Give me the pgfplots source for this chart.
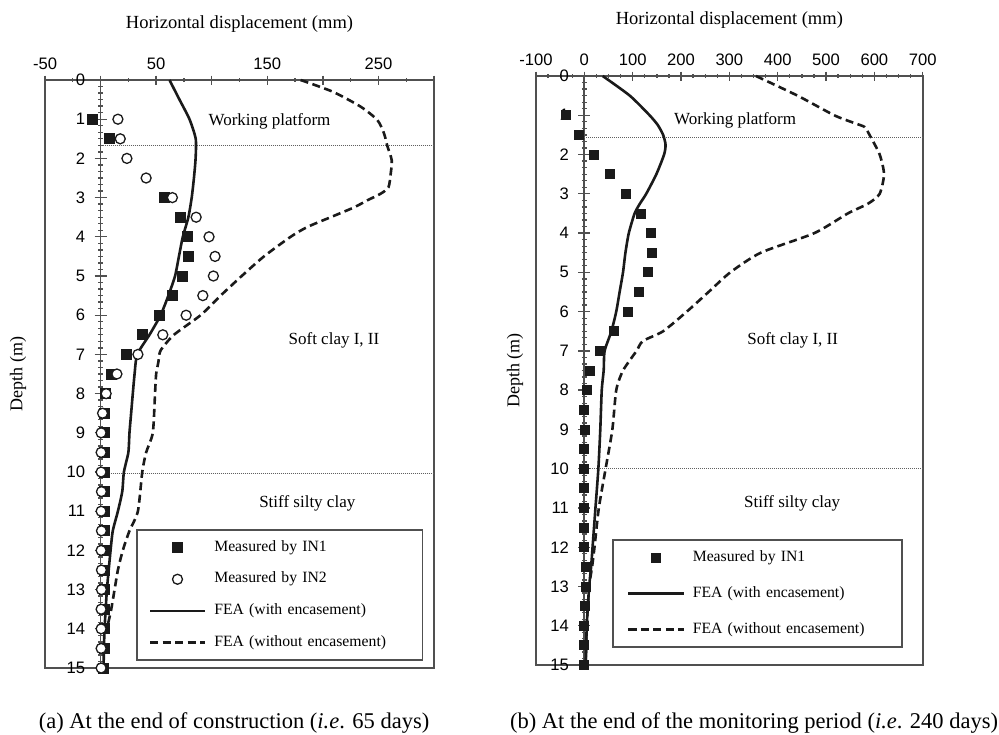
\documentclass[border=0pt]{standalone}
\usepackage{fontspec}
\setmainfont{Liberation Serif}
\newfontfamily\arial{Liberation Sans}
\usepackage{pgfplots}
\pgfplotsset{compat=1.18}
\definecolor{framec}{HTML}{505050}
\definecolor{dotc}{HTML}{606060}
\definecolor{inkc}{HTML}{1A1A1A}

\pgfplotsset{
  frameaxis/.style={scale only axis, anchor=north west, y dir=reverse, ymin=0, ymax=15,
    axis line style={framec, line width=1.8bp},
    xtick pos=upper, xticklabel pos=upper, ytick=\empty,
    tick align=center, major tick length=9bp, minor tick length=4bp,
    tick style={framec, line width=1.3bp},
    xticklabel style={font=\fontsize{16.6bp}{18bp}\arial, yshift=2bp},
    title style={font=\fontsize{18.5bp}{20bp}\selectfont, at={(axis description cs:0.5,1)}, anchor=center, yshift=50bp},
    ylabel style={font=\fontsize{18bp}{20bp}\selectfont, anchor=center},
  },
  dataaxis/.style={scale only axis, anchor=north west, y dir=reverse, ymin=0, ymax=15,
    axis x line=none, axis y line=middle,
    axis line style={framec, line width=1.8bp, -},
    ytick={0,1,...,15}, minor y tick num=5,
    tick align=center, major tick length=12bp, minor tick length=5bp,
    tick style={framec, line width=1.3bp},
    yticklabel style={font=\fontsize{16.6bp}{18bp}\arial, xshift=-6bp},
    /pgf/number format/assume math mode=true,
    clip=false,
    legend cell align=left,
    legend image code/.code={\draw[mark repeat=2,mark phase=2,##1] plot coordinates {(0bp,0bp) (27.5bp,0bp) (55bp,0bp)};},
  },
  in1/.style={only marks, mark=square*, mark size=5bp, line width=0.8bp, mark options={fill=inkc, draw=inkc}},
  in2/.style={only marks, mark=*, mark size=5bp, line width=1.3bp, mark options={fill=white, draw=inkc}},
  feaw/.style={inkc, line width=2.6bp, smooth, tension=0.4, mark=none},
  feawo/.style={inkc, line width=2.6bp, dash pattern=on 8bp off 4.5bp, smooth, tension=0.4, mark=none},
}
\tikzset{
  annot/.style={font=\fontsize{17bp}{19bp}\selectfont, anchor=center},
  capt/.style={font=\fontsize{22.5bp}{25bp}\selectfont, anchor=center},
  dotline/.style={dotc, line width=1bp, dash pattern=on 1bp off 1bp},
}

\begin{document}
\begin{tikzpicture}
\useasboundingbox (0bp,0bp) rectangle (999bp,-735bp);

% ---------------- Panel (a) ----------------
\begin{axis}[frameaxis, at={(45bp,-80bp)}, width=389bp, height=588bp,
  xmin=-50, xmax=300,
  xtick={-50,0,50,100,150,200,250,300}, xticklabels={-50,,50,,150,,250,},
  minor x tick num=1,
  title={Horizontal displacement (mm)},
  ylabel={Depth (m)},
  ylabel style={at={(axis description cs:-0.069,0.5)}},
]
\end{axis}
\begin{axis}[dataaxis, at={(45bp,-80bp)}, width=389bp, height=588bp,
  xmin=-50, xmax=300,
  legend style={at={(axis description cs:0.972,0.012)}, anchor=south east, draw=framec, line width=1.6bp, fill=white,
    inner xsep=12bp, inner ysep=10bp, row sep=16.7bp,
    font=\fontsize{15.7bp}{18bp}\selectfont,
    nodes={inner xsep=0bp, inner ysep=0bp, text height=11bp, text depth=4bp, text width=196bp},
    /tikz/every odd column/.append style={column sep=8bp}},
]
\draw[dotline] (axis cs:0,1.68) -- (axis cs:300,1.68);
\draw[dotline] (axis cs:0,10.05) -- (axis cs:300,10.05);
\addplot[in1] coordinates {(-7.6,1) (7.5,1.5) (57,3) (72,3.5) (78,4) (79,4.5) (74,5) (65,5.5) (53,6) (38,6.5) (23,7) (10,7.5) (4,8) (3.5,8.5) (3.5,9) (3.5,9.5) (3,10) (3,10.5) (3,11) (3,11.5) (3,12) (3,12.5) (3,13) (3,13.5) (3,14) (3,14.5) (2.5,15)};
\addlegendentry{Measured by IN1}
\addplot[in2] coordinates {(15.6,1) (17.7,1.5) (23.7,2) (41,2.5) (64.6,3) (86,3.5) (97.6,4) (103,4.5) (101.5,5) (92,5.5) (77,6) (56,6.5) (33.6,7) (14.7,7.5) (5,8) (1.8,8.5) (0.5,9) (0.5,9.5) (0.5,10) (0.8,10.5) (0.5,11) (0.8,11.5) (0.5,12) (0.8,12.5) (0.8,13) (0.5,13.5) (0.5,14) (0.5,14.5) (0.5,15)};
\addlegendentry{Measured by IN2}
\addplot[feaw] coordinates {(62,0) (71,0.5) (80,1) (85.6,1.5) (85.5,2) (84,2.5) (82,3) (79,3.5) (74,4) (70.5,4.5) (67,5) (61,5.5) (54,6) (44,6.5) (33,7) (30.6,7.5) (29,8) (27.5,8.5) (26,9) (25,9.5) (21,10) (19.5,10.5) (15.6,11) (11,11.5) (9,12) (7.3,12.5) (5.7,13) (4.6,13.5) (3.6,14) (3,14.5) (2.7,15)};
\addlegendentry{FEA (with encasement)}
\addplot[feawo] coordinates {(180,0) (209,0.3) (234,0.68) (249,1.02) (255,1.36) (258,1.68) (262,2.05) (261,2.4) (259,2.74) (252,2.9) (240,3.07) (228,3.25) (207,3.5) (186,3.75) (171,4) (147,4.5) (127,5) (108,5.5) (90,6) (66,6.5) (54,6.9) (52,7.2) (50,7.5) (49,8) (47,9) (41,9.5) (37.5,10) (33.6,11) (26,11.5) (20,12) (15.6,12.5) (12.6,13) (9.6,13.5) (5.7,14)};
\addlegendentry{FEA (without encasement)}
\node[annot] at (axis cs:152,1.05) {Working platform};
\node[annot] at (axis cs:210,6.65) {Soft clay I, II};
\node[annot] at (axis cs:186,10.8) {Stiff silty clay};
\node[capt] at (axis description cs:0.486,-0.0935) {(a) At the end of construction (\textit{i.e}. 65 days)};
\end{axis}

% ---------------- Panel (b) ----------------
\begin{axis}[frameaxis, at={(536bp,-76bp)}, width=386.7bp, height=589bp,
  xmin=-100, xmax=700,
  xtick={-100,0,100,200,300,400,500,600,700}, xticklabels={-100,0,100,200,300,400,500,600,700},
  minor x tick num=3,
  title={Horizontal displacement (mm)},
  ylabel={Depth (m)},
  ylabel style={at={(axis description cs:-0.054,0.5)}},
]
\end{axis}
\begin{axis}[dataaxis, at={(536bp,-76bp)}, width=386.7bp, height=589bp,
  xmin=-100, xmax=700,
  legend style={at={(axis description cs:0.948,0.029)}, anchor=south east, draw=framec, line width=1.6bp, fill=white,
    inner xsep=14bp, inner ysep=10bp, row sep=21bp,
    font=\fontsize{15.7bp}{18bp}\selectfont,
    nodes={inner xsep=0bp, inner ysep=0bp, text height=11bp, text depth=4bp, text width=195bp},
    /tikz/every odd column/.append style={column sep=8bp}},
]
\draw[dotline] (axis cs:0,1.56) -- (axis cs:700,1.56);
\draw[dotline] (axis cs:0,10) -- (axis cs:700,10);
\addplot[in1, mark size=4.5bp] coordinates {(-38,1) (-12,1.5) (19,2) (52,2.5) (87,3) (118,3.5) (137,4) (140,4.5) (131,5) (113,5.5) (90,6) (61,6.5) (33,7) (12,7.5) (5,8) (0,8.5) (1.5,9) (0,9.5) (0,10) (0,10.5) (0,11) (0,11.5) (0,12) (4,12.5) (4,13) (2,13.5) (0,14) (0,14.5) (0,15)};
\addlegendentry{Measured by IN1}
\addplot[feaw] coordinates {(38,0) (94,0.5) (135,1) (152,1.25) (163,1.5) (168,1.75) (165,2) (149,2.5) (128,3) (115,3.25) (104,3.5) (92,4) (85,4.5) (80,5) (73,5.5) (66,6) (56,6.5) (42,7) (40,7.5) (36,8) (33,9) (29,10) (23,11) (17,12) (14,12.5) (10,13) (5,14) (3,15)};
\addlegendentry{FEA (with encasement)}
\addplot[feawo] coordinates {(355,0) (441,0.5) (517,1) (559,1.2) (580,1.3) (590,1.5) (611,2) (620,2.5) (611,3) (587,3.25) (545,3.5) (476,4) (365,4.5) (302,5) (257,5.5) (212,6) (163,6.5) (121,6.75) (108,7) (80,7.5) (66,8) (58,9) (44,10) (30,11) (21,12) (16,12.5) (10,13) (5,14) (3,15)};
\addlegendentry{FEA (without encasement)}
\node[annot] at (axis cs:312,1.12) {Working platform};
\node[annot] at (axis cs:431,6.74) {Soft clay I, II};
\node[annot] at (axis cs:430,10.88) {Stiff silty clay};
\node[capt] at (axis description cs:0.564,-0.0985) {(b) At the end of the monitoring period (\textit{i.e}. 240 days)};
\end{axis}
\end{tikzpicture}
\end{document}
